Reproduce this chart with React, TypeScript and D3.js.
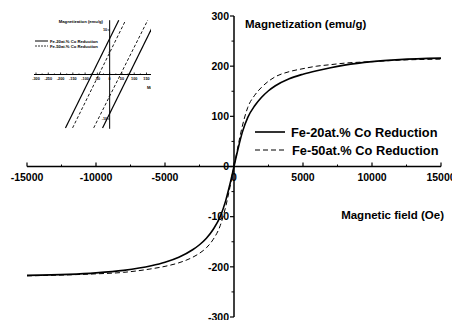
import * as React from 'react';
import * as d3 from 'd3';

// main curves (field in Oe, magnetization in emu/g)
const fieldFe20 = [-15000, -12000, -10000, -8000, -6000, -5000, -4000, -3000, -2500, -2000, -1500, -1000, -600, -300, 0, 300, 600, 1000, 1500, 2000, 2500, 3000, 4000, 5000, 6000, 7000, 8000, 10000, 12000, 15000];
const magFe20 = [-217, -215, -212, -207, -198, -191, -181, -166, -156, -143, -125, -100, -68, -36, 0, 36, 68, 98, 121, 138, 151, 161, 175, 184, 191, 197, 202, 209, 213, 216];
const fieldFe50 = [-15000, -12000, -10000, -8000, -6000, -5000, -4000, -3000, -2500, -2000, -1500, -1000, -600, -300, 0, 300, 600, 1000, 1500, 2000, 2500, 3000, 4000, 5000, 6000, 7000, 8000, 10000, 12000, 15000];
const magFe50 = [-218, -216, -214, -211, -204, -199, -192, -181, -173, -162, -145, -118, -80, -42, 0, 42, 80, 118, 142, 158, 170, 179, 189, 195, 200, 203, 206, 209, 212, 214];

// inset loop branches (zoom near origin)
const insetFe20Up = [[-180, -12], [37, 12.2]];
const insetFe20Down = [[-29, -12], [188, 12.2]];
const insetFe50Up = [[-151, -12], [65, 12.2]];
const insetFe50Down = [[-65, -12], [155, 12.2]];

const xTicks = [-15000, -10000, -5000, 0, 5000, 10000, 15000];
const yTicks = [-300, -200, -100, 0, 100, 200, 300];
const insetXTicks = [-300, -250, -200, -150, -100, -50, 0, 50, 100, 150];
const insetYTicks = [-10, 10];

const seriesNames = ['Fe-20at.% Co Reduction', 'Fe-50at.% Co Reduction'];

const W = 452, H = 320;
const font = 'Arial, "Liberation Sans", Helvetica, sans-serif';

export default function App() {
  const x = d3.scaleLinear().domain([-15000, 15000]).range([27, 441]);
  const y = d3.scaleLinear().domain([-300, 300]).range([317, 16]);

  const xi = d3.scaleLinear().domain([-300, 150]).range([36, 146.5]);
  const yi = d3.scaleLinear().domain([-10, 10]).range([119, 30]);

  const line = d3.line<[number, number]>().x(d => x(d[0])).y(d => y(d[1])).curve(d3.curveMonotoneX);
  const iline = d3.line<number[]>().x(d => xi(d[0])).y(d => yi(d[1]));

  const pts20 = fieldFe20.map((f, i) => [f, magFe20[i]] as [number, number]);
  const pts50 = fieldFe50.map((f, i) => [f, magFe50[i]] as [number, number]);

  const x0 = x(0), y0 = y(0);
  const xMinor = d3.range(-15000, 15001, 2500).filter(v => v % 5000 !== 0);
  const yMinor = d3.range(-250, 251, 100);

  const ix0 = xi(0), iy0 = yi(0);
  const ixMinor = d3.range(-275, 150, 50);
  const iyMinor = [-5, 5];

  return (
    <svg width={W} height={H} style={{ position: 'absolute', left: 0, top: 0, background: '#fff' }}
      fontFamily={font}>
      <defs>
        <clipPath id="insetClip"><rect x={0} y={18} width={151} height={112} /></clipPath>
      </defs>

      {/* main axes */}
      <line x1={x(-15000)} x2={x(15000)} y1={y0} y2={y0} stroke="#000" strokeWidth={1.5} />
      <line x1={x0} x2={x0} y1={y(300)} y2={y(-300)} stroke="#000" strokeWidth={1.5} />
      {xTicks.map(t => (
        <g key={'xt' + t}>
          <line x1={x(t)} x2={x(t)} y1={y0} y2={y0 - 4} stroke="#000" strokeWidth={1.2} />
          <text x={x(t)} y={y0 + 14} textAnchor="middle" fontSize={10.5} fontWeight="bold">{t}</text>
        </g>
      ))}
      {xMinor.map(t => (
        <line key={'xm' + t} x1={x(t)} x2={x(t)} y1={y0} y2={y0 - 2} stroke="#000" strokeWidth={1} />
      ))}
      {yTicks.map(t => (
        <g key={'yt' + t}>
          <line x1={x0 - 4} x2={x0} y1={y(t)} y2={y(t)} stroke="#000" strokeWidth={1.2} />
          <text x={x0 - 5} y={y(t) + 3.8} textAnchor="end" fontSize={10.5} fontWeight="bold">{t}</text>
        </g>
      ))}
      {yMinor.map(t => (
        <line key={'ym' + t} x1={x0 - 2.5} x2={x0} y1={y(t)} y2={y(t)} stroke="#000" strokeWidth={1} />
      ))}

      <text x={245} y={28} fontSize={11.5} fontWeight="bold">Magnetization (emu/g)</text>
      <text x={444} y={219} fontSize={11.5} fontWeight="bold" textAnchor="end">Magnetic field (Oe)</text>

      {/* curves */}
      <path d={line(pts20) || ''} fill="none" stroke="#000" strokeWidth={1.6} />
      <path d={line(pts50) || ''} fill="none" stroke="#000" strokeWidth={1} strokeDasharray="5,3" />

      {/* legend */}
      <line x1={255} x2={285} y1={132} y2={132} stroke="#000" strokeWidth={1.6} />
      <text x={291} y={136.5} fontSize={12.8} fontWeight="bold">{seriesNames[0]}</text>
      <line x1={255} x2={287} y1={150} y2={150} stroke="#000" strokeWidth={1} strokeDasharray="5,3" />
      <text x={292} y={154.5} fontSize={12.8} fontWeight="bold">{seriesNames[1]}</text>

      {/* inset */}
      <g clipPath="url(#insetClip)">
        <line x1={xi(-300) - 2} x2={155} y1={iy0} y2={iy0} stroke="#000" strokeWidth={1} />
        <line x1={ix0} x2={ix0} y1={yi(12.2)} y2={yi(-12.2)} stroke="#000" strokeWidth={1} />
        {insetXTicks.map(t => (
          <g key={'ixt' + t}>
            <line x1={xi(t)} x2={xi(t)} y1={iy0} y2={iy0 - 2} stroke="#000" strokeWidth={0.8} />
            <text x={xi(t)} y={iy0 + 5.5} textAnchor="middle" fontSize={3.8} fontWeight="bold">{t}</text>
          </g>
        ))}
        {ixMinor.map(t => (
          <line key={'ixm' + t} x1={xi(t)} x2={xi(t)} y1={iy0} y2={iy0 - 1.2} stroke="#000" strokeWidth={0.6} />
        ))}
        {insetYTicks.map(t => (
          <g key={'iyt' + t}>
            <line x1={ix0 - 2} x2={ix0} y1={yi(t)} y2={yi(t)} stroke="#000" strokeWidth={0.8} />
            <text x={ix0 - 2.5} y={yi(t) + 1.4} textAnchor="end" fontSize={3.8} fontWeight="bold">{t}</text>
          </g>
        ))}
        {iyMinor.map(t => (
          <line key={'iym' + t} x1={ix0 - 1.2} x2={ix0} y1={yi(t)} y2={yi(t)} stroke="#000" strokeWidth={0.6} />
        ))}

        <text x={103} y={23} textAnchor="end" fontSize={4.2} fontWeight="bold">Magnetization (emu/g)</text>
        <text x={147} y={89} fontSize={4.2} fontWeight="bold">Magnetic field (Oe)</text>

        <path d={iline(insetFe20Up) || ''} fill="none" stroke="#000" strokeWidth={1.2} />
        <path d={iline(insetFe20Down) || ''} fill="none" stroke="#000" strokeWidth={1.2} />
        <path d={iline(insetFe50Up) || ''} fill="none" stroke="#000" strokeWidth={0.9} strokeDasharray="3,2" />
        <path d={iline(insetFe50Down) || ''} fill="none" stroke="#000" strokeWidth={0.9} strokeDasharray="3,2" />

        <line x1={35} x2={48} y1={41} y2={41} stroke="#000" strokeWidth={1} />
        <text x={50} y={42.5} fontSize={4.2} fontWeight="bold">{seriesNames[0]}</text>
        <line x1={35} x2={48} y1={46} y2={46} stroke="#000" strokeWidth={0.8} strokeDasharray="2,1" />
        <text x={50} y={47.5} fontSize={4.2} fontWeight="bold">{seriesNames[1]}</text>
      </g>
    </svg>
  );
}
